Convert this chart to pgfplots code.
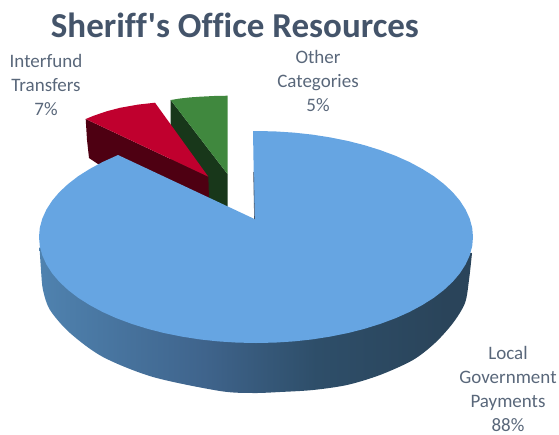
\documentclass[border=0pt]{standalone}
\usepackage{pgfplots}
\pgfplotsset{compat=1.18}
\usepackage{fontspec}
\setmainfont{Carlito}[Ligatures={NoCommon,TeXOff}]
\definecolor{blueTop}{RGB}{102,165,226}
\definecolor{redTop}{RGB}{192,0,46}
\definecolor{redSide}{RGB}{78,0,18}
\definecolor{greenTop}{RGB}{64,136,62}
\definecolor{greenSide}{RGB}{24,55,26}
\definecolor{titleInk}{RGB}{68,84,106}
\definecolor{labelInk}{RGB}{89,103,122}
% Rim of the large slice, lit from the left and falling into shadow
\pgfdeclarehorizontalshading{rimshade}{100bp}{
  rgb(0bp)=(0.365,0.588,0.804);
  rgb(25bp)=(0.310,0.510,0.686);
  rgb(44bp)=(0.247,0.392,0.549);
  rgb(57bp)=(0.180,0.306,0.412);
  rgb(72bp)=(0.165,0.267,0.353);
  rgb(100bp)=(0.165,0.267,0.353)}
\begin{document}
\begin{tikzpicture}
\path[use as bounding box] (0,0) rectangle (559pt,434pt);
\begin{axis}[
  at={(0,0)}, anchor=south west,
  width=559pt, height=434pt, scale only axis,
  xmin=0, xmax=559, ymin=0, ymax=434, y dir=reverse,
  hide axis, clip=false]

% Other Categories: 5%
\addplot[fill=greenSide, draw=none] coordinates {
  (170.7,100) (170.7,178) (227.7,208) (227.7,174.3)} --cycle;
\addplot[fill=greenTop, draw=none] coordinates {
  (170.7,100) (180,98.5) (190,97.4) (200,96.7) (214,96) (227.7,95.7) (227.7,174.3)} --cycle;

% Interfund Transfers: 7%
\addplot[fill=redSide, draw=none] coordinates {
  (85.7,119) (87,140) (89,158) (98,164) (118,170) (209,198) (208.3,176.7)} --cycle;
\addplot[fill=redTop, draw=none] coordinates {
  (85.7,119) (94,115.6) (107,111.2) (120,107.8) (138,104.6) (155,102.7) (208.3,176.7)} --cycle;

% Local Government Payments: 88%, rim first, then the top face over it
\addplot[shading=rimshade, draw=none, smooth, tension=0.5] coordinates {
  (39.5,247) (41,270) (43,290) (50,310) (70,333) (103,357) (153,377) (220,391)
  (253,393) (280,392) (313,390) (347,385) (380,375) (413,360) (435,343) (453,323)
  (465,303) (469,280) (472,253)} --cycle;
\addplot[fill=blueTop, draw=none] coordinates {
  (254.5,219) (253,131) (256,131)
  (274.9,131.4) (293.7,132.6) (312.2,134.6) (330.2,137.4) (347.7,140.9) (364.5,145.2)
  (380.5,150.2) (395.5,155.8) (409.4,162) (422.2,168.9) (433.8,176.2) (443.9,184)
  (452.7,192.2) (459.9,200.7) (465.6,209.6) (469.7,218.6) (472.2,227.8) (473,237)
  (472.2,246.2) (469.7,255.4) (465.6,264.4) (459.9,273.3) (452.7,281.8) (443.9,290)
  (433.8,297.8) (422.2,305.1) (409.4,312) (395.5,318.2) (380.5,323.8) (364.5,328.8)
  (347.7,333.1) (330.2,336.6) (312.2,339.4) (293.7,341.4) (274.9,342.6) (256,343)
  (237.1,342.6) (218.3,341.4) (199.8,339.4) (181.8,336.6) (164.3,333.1) (147.5,328.8)
  (131.5,323.8) (116.5,318.2) (102.6,312) (89.8,305.1) (78.2,297.8) (68.1,290)
  (59.3,281.8) (52.1,273.3) (46.4,264.4) (42.3,255.4) (39.8,246.2) (39,237)
  (39.8,227.8) (42.3,218.6) (46.4,209.6) (52.1,200.7) (59.3,192.2) (68.1,184)
  (78.2,176.2) (89.8,168.9) (102.6,162) (118,155)} --cycle;
% Sliver of the inner face along the cut
\addplot[draw=titleInk, line width=0.6pt] coordinates {
  (253.6,172) (254.5,219)};

\node[font=\fontsize{35}{40}\selectfont\bfseries, text=titleInk] at (axis cs:235,25) {Sheriff's Office Resources};
\node[font=\fontsize{19}{24}\selectfont, text=labelInk, align=center] at (axis cs:46,85) {Interfund\\Transfers\\7\%};
\node[font=\fontsize{19}{24}\selectfont, text=labelInk, align=center] at (axis cs:318,81) {Other\\Categories\\5\%};
\node[font=\fontsize{19}{24}\selectfont, text=labelInk, align=center, inner sep=0pt] at (axis cs:508,388.5) {Local\\Government\\Payments\\88\%};
\end{axis}
\end{tikzpicture}
\end{document}
